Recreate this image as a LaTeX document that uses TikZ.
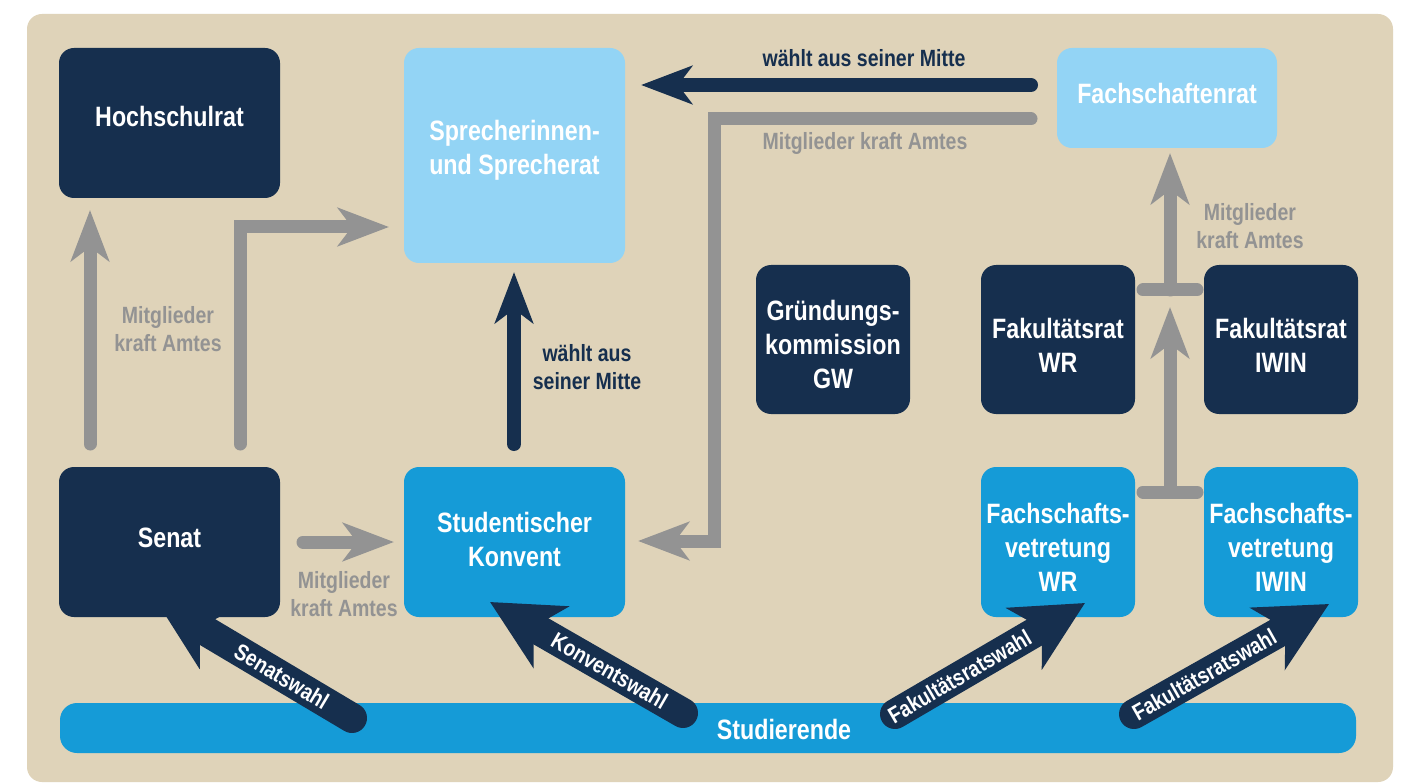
\documentclass[tikz,border=0pt]{standalone}
\usepackage{fontspec}
\setmainfont{Liberation Sans}[FakeStretch=0.83]
\usetikzlibrary{arrows.meta,calc}
\definecolor{navy}{HTML}{162F4E}
\definecolor{lblue}{HTML}{93D4F5}
\definecolor{mblue}{HTML}{159BD7}
\definecolor{beige}{HTML}{DFD3B9}
\definecolor{agray}{HTML}{939393}
\begin{document}
\begin{tikzpicture}[x=1pt,y=-1pt,
  box/.style={rounded corners=15pt, draw=none, inner sep=0pt},
  boxtext/.style={text=white, font=\bfseries\fontsize{28}{34}\selectfont, align=center, inner sep=0pt},
  graylabel/.style={text=agray, font=\bfseries\fontsize{23.5}{28}\selectfont, align=center, inner sep=0pt},
  navylabel/.style={text=navy, font=\bfseries\fontsize{23.5}{27.5}\selectfont, align=center, inner sep=0pt},
  wahllabel/.style={text=white, font=\bfseries\fontsize{23}{23}\selectfont, inner sep=0pt, sloped},
  grayarr/.style={draw=agray, line width=13pt, line cap=round, line join=miter, -{Stealth[length=51pt,width=38pt,inset=14pt]}},
  navyarr/.style={draw=navy, line width=14pt, line cap=round, -{Stealth[length=51pt,width=38pt,inset=14pt]}},
  wahlarr/.style={draw=navy, line width=30pt, line cap=round, -{Stealth[length=70pt,width=70pt,inset=20pt]}},
  tbar/.style={draw=agray, line width=13pt, line cap=round}
]
\useasboundingbox (0,0) rectangle (1404,783);
\fill[white] (0,0) rectangle (1404,783);
\fill[beige, rounded corners=15pt] (27,14) rectangle (1393,782);

% boxes
\node[box, fill=navy, minimum width=221pt, minimum height=150pt] (hs) at (169.5,123) {};
\node[boxtext] (hst) at (169.5,116) {Hochschulrat};
\node[box, fill=lblue, minimum width=221pt, minimum height=215pt] (sp) at (514.5,155.5) {};
\node[boxtext] (spt) at (514.5,150) {Sprecherinnen-\\und Sprecherat};
\node[box, fill=lblue, minimum width=220pt, minimum height=100pt] (fr) at (1167,98) {};
\node[boxtext] (frt) at (1167,93) {Fachschaftenrat};
\node[box, fill=navy, minimum width=221pt, minimum height=150pt] (se) at (169.5,542) {};
\node[boxtext] (set) at (169.5,538) {Senat};
\node[box, fill=mblue, minimum width=221pt, minimum height=150pt] (ko) at (514.5,542) {};
\node[boxtext] (kot) at (514.5,539.5) {Studentischer\\Konvent};
\node[box, fill=navy, minimum width=154pt, minimum height=149pt] (gk) at (833,339.5) {};
\node[boxtext] (gkt) at (833,344) {Gründungs-\\kommission\\GW};
\node[box, fill=navy, minimum width=154pt, minimum height=149pt] (fwr) at (1058,339.5) {};
\node[boxtext] (fwrt) at (1058,345) {Fakultätsrat\\WR};
\node[box, fill=navy, minimum width=154pt, minimum height=149pt] (fiw) at (1281,339.5) {};
\node[boxtext] (fiwt) at (1281,345) {Fakultätsrat\\IWIN};
\node[box, fill=mblue, minimum width=154pt, minimum height=150pt] (vwr) at (1058,542) {};
\node[boxtext] (vwrt) at (1058,547) {Fachschafts-\\vetretung\\WR};
\node[box, fill=mblue, minimum width=154pt, minimum height=150pt] (viw) at (1281,542) {};
\node[boxtext] (viwt) at (1281,547) {Fachschafts-\\vetretung\\IWIN};
\node[box, rounded corners=17pt, fill=mblue, minimum width=1296pt, minimum height=50pt] (st) at (708,728) {};
\node[boxtext] (stt) at (784,729) {Studierende};

% coordinates
\coordinate (a1s) at (90,444);   \coordinate (a1e) at (90,210);
\coordinate (a2s) at (240,444);  \coordinate (a2e) at (389,227);
\coordinate (a3s) at (303,542);  \coordinate (a3e) at (394,542);
\coordinate (a4s) at (514,444);  \coordinate (a4e) at (514,272);
\coordinate (a5s) at (1031,85);  \coordinate (a5e) at (641,85);
\coordinate (a6s) at (1031,119); \coordinate (a6m) at (714,119); \coordinate (a6e) at (638,541);
\coordinate (a7s) at (1170,492); \coordinate (a7e) at (1170,307);
\coordinate (a8s) at (1170,290); \coordinate (a8e) at (1170,153);
\coordinate (tb1l) at (1143,492); \coordinate (tb1r) at (1197,492);
\coordinate (tb2l) at (1143,290); \coordinate (tb2r) at (1197,290);
\coordinate (w1s) at (352,718);  \coordinate (w1e) at (157,602);
\coordinate (w2s) at (683,713);  \coordinate (w2e) at (490,602);
\coordinate (w3s) at (895,714);  \coordinate (w3e) at (1085,603);
\coordinate (w4s) at (1134,714); \coordinate (w4e) at (1329,604);

% gray connectors
\draw[grayarr] (a1s) -- (a1e);
\draw[grayarr] (a2s) |- (a2e);
\draw[grayarr] (a3s) -- (a3e);
\draw[grayarr] (a6s) -- (a6m) |- (a6e);
\draw[grayarr] (a7s) -- (a7e);
\draw[grayarr] (a8s) -- (a8e);
\draw[tbar] (tb1l) -- (tb1r);
\draw[tbar] (tb2l) -- (tb2r);

% navy connectors
\draw[navyarr] (a4s) -- (a4e);
\draw[navyarr] (a5s) -- (a5e);

% labels
\node[graylabel] (l1) at (168,329) {Mitglieder\\kraft Amtes};
\node[graylabel] (l2) at (344,594) {Mitglieder\\kraft Amtes};
\node[graylabel] (l3) at (865,143) {Mitglieder kraft Amtes};
\node[graylabel] (l4) at (1250,226) {Mitglieder\\kraft Amtes};
\node[navylabel] (l5) at (587,367) {wählt aus\\seiner Mitte};
\node[navylabel] (l6) at (864,58) {wählt aus seiner Mitte};

% election arrows
\draw[wahlarr] (w1s) -- node[wahllabel, pos=0.36] (w1l) {Senatswahl} (w1e);
\draw[wahlarr] (w2s) -- node[wahllabel, pos=0.38] (w2l) {Konventswahl} (w2e);
\draw[wahlarr] (w3s) -- node[wahllabel, pos=0.34] (w3l) {Fakultätsratswahl} (w3e);
\draw[wahlarr] (w4s) -- node[wahllabel, pos=0.36] (w4l) {Fakultätsratswahl} (w4e);
\end{tikzpicture}
\end{document}
